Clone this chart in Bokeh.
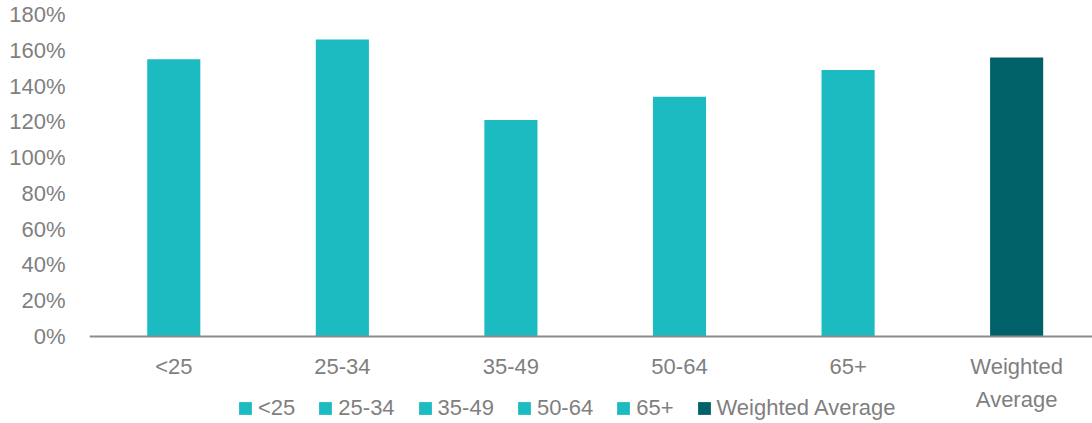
from bokeh.plotting import figure
from bokeh.models import (ColumnDataSource, FixedTicker, PrintfTickFormatter, Range1d,
                          Legend, LegendItem)
from bokeh.core.properties import field
from bokeh.embed import file_html
from bokeh.resources import INLINE

categories = ["<25", "25-34", "35-49", "50-64", "65+", "Weighted Average"]
tick_labels = ["<25", "25-34", "35-49", "50-64", "65+", "Weighted\nAverage"]
values = [155, 166, 121, 134, 149, 156]
y_ticks = [0, 20, 40, 60, 80, 100, 120, 140, 160, 180]

FONT = "Liberation Sans"
FS = "22px"
GREY = "#7F7F7F"
TEAL = "#1BBBC1"
DARK = "#006169"

xs = list(range(len(categories)))
colors = [DARK if c == "Weighted Average" else TEAL for c in categories]
source = ColumnDataSource(dict(x=xs, cat=categories, top=values, color=colors))

# frame spans from the top border to the bottom of the page; y=0 sits 87px above bottom
p = figure(width=1092, height=423, output_backend="svg", toolbar_location=None,
           x_range=Range1d(-0.5, 5.45), y_range=Range1d(-48.6, 180),
           min_border_left=89, min_border_right=0, min_border_top=14, min_border_bottom=0)

r = p.vbar(x="x", top="top", width=0.315, source=source, color="color", line_color=None)

p.outline_line_color = None
p.xgrid.visible = False
p.ygrid.visible = False
p.background_fill_color = "white"
p.border_fill_color = "white"

xa = p.xaxis[0]
xa.fixed_location = 0
xa.ticker = FixedTicker(ticks=xs)
xa.major_label_overrides = {i: t for i, t in zip(xs, tick_labels)}
xa.major_tick_line_color = None
xa.minor_tick_line_color = None
xa.major_tick_out = 0
xa.major_tick_in = 0
xa.axis_line_color = "#8C8C8C"
xa.axis_line_width = 2
xa.major_label_text_font = FONT
xa.major_label_text_font_size = FS
xa.major_label_text_color = GREY
xa.major_label_text_line_height = 1.35
xa.major_label_standoff = 17

ya = p.yaxis[0]
ya.ticker = FixedTicker(ticks=y_ticks)
ya.formatter = PrintfTickFormatter(format="%d%%")
ya.axis_line_color = None
ya.major_tick_line_color = None
ya.minor_tick_line_color = None
ya.major_tick_out = 0
ya.major_label_text_font = FONT
ya.major_label_text_font_size = FS
ya.major_label_text_color = GREY
ya.major_label_standoff = 24

legend = Legend(items=[LegendItem(label=field("cat"), renderers=[r])],
                location=(148, 2), orientation="horizontal",
                padding=0, margin=0, spacing=22, label_standoff=5,
                glyph_width=16, glyph_height=16, label_height=24,
                border_line_color=None, background_fill_alpha=0,
                label_text_font=FONT, label_text_font_size=FS,
                label_text_color=GREY)
p.add_layout(legend, "center")

open("out.html", "w").write(file_html(p, INLINE))
